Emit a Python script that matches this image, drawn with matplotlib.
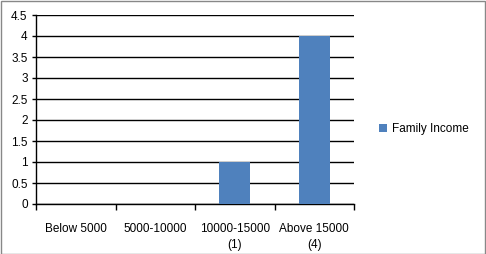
import matplotlib.pyplot as plt
import numpy as np

categories = ['Below 5000', '5000-10000', '10000-15000\n(1)', 'Above 15000\n(4)']
values = [0, 0, 1, 4]
series_name = 'Family Income'
yticks = [0, 0.5, 1, 1.5, 2, 2.5, 3, 3.5, 4, 4.5]

plt.rcParams['font.family'] = ['Liberation Sans', 'DejaVu Sans']

W, H = 486, 254
fig = plt.figure(figsize=(W / 100, H / 100), dpi=100)
ax = fig.add_axes([36 / W, 1 - 204 / H, (354 - 36) / W, (204 - 15) / H])

x = np.arange(len(categories))
ax.bar(x, values, width=0.39, color='#4F81BD', label=series_name, zorder=3)

ax.set_xlim(-0.5, len(categories) - 0.5)
ax.set_ylim(0, 4.5)
ax.set_yticks(yticks)
ax.set_yticklabels(['%g' % v for v in yticks], fontsize=8.5)
ax.yaxis.grid(True, color='black', linewidth=1, zorder=0)

ax.set_xticks(np.arange(-0.5, len(categories), 1.0))
ax.set_xticklabels([])
ax.set_xticks(x, minor=True)
ax.set_xticklabels(categories, minor=True, fontsize=8.5, linespacing=1.35)
ax.tick_params(axis='x', which='minor', length=0, pad=14)
ax.tick_params(axis='x', which='major', length=4, width=1, direction='out')
ax.tick_params(axis='y', length=3, width=1, direction='out', pad=3)

for s in ['top', 'right']:
    ax.spines[s].set_visible(False)
ax.spines['left'].set_linewidth(1)
ax.spines['bottom'].set_linewidth(1)

ax.legend(loc='center left', bbox_to_anchor=(368 / W, 1 - 129 / H),
          bbox_transform=fig.transFigure, frameon=False, fontsize=8.5,
          handlelength=0.75, handleheight=0.75, handletextpad=0.35)

fig.patches.append(plt.Rectangle((0.5 / W, 0.5 / H), 1 - 1.5 / W, 1 - 1.5 / H,
                                 transform=fig.transFigure, fill=False,
                                 edgecolor='#888888', linewidth=1))

fig.savefig('out.png', dpi=100)
